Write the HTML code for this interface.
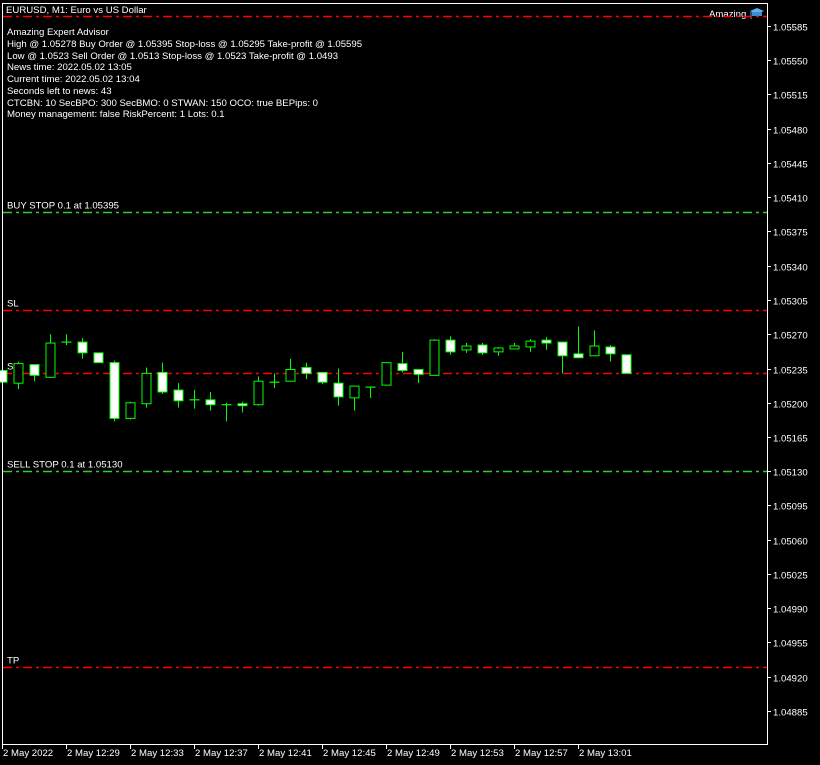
<!DOCTYPE html>
<html><head><meta charset="utf-8"><style>
body{margin:0;background:#000;width:820px;height:765px;overflow:hidden}
svg{display:block}
text{font-family:"Liberation Sans","DejaVu Sans",sans-serif;font-size:9.6px;fill:#fff}
</style></head><body>
<svg id="chart" width="820" height="765">
<text x="6" y="13">EURUSD, M1:  Euro vs US Dollar</text>
<g>
<text x="7" y="35">Amazing Expert Advisor</text>
<text x="7" y="47">High @ 1.05278 Buy Order @ 1.05395 Stop-loss @ 1.05295 Take-profit @ 1.05595</text>
<text x="7" y="59">Low @ 1.0523 Sell Order @ 1.0513 Stop-loss @ 1.0523 Take-profit @ 1.0493</text>
<text x="7" y="70">News time: 2022.05.02 13:05</text>
<text x="7" y="82">Current time: 2022.05.02 13:04</text>
<text x="7" y="94">Seconds left to news: 43</text>
<text x="7" y="106">CTCBN: 10 SecBPO: 300 SecBMO: 0 STWAN: 150 OCO: true BEPips: 0</text>
<text x="7" y="117">Money management: false RiskPercent: 1 Lots: 0.1</text>
</g>
<text x="709" y="17">Amazing</text>
<g><polygon points="750,11 757,8 764,11 757,14" fill="#5ab4f0"/><rect x="752" y="12" width="10" height="4" fill="#3a8fd0"/><line x1="751" y1="11" x2="751" y2="19" stroke="#2a6fb0" stroke-width="1.5"/></g>
<g id="lines"></g>
<g id="candles"></g>
<g id="axes"></g>
</svg>
<script>
const opens  =[1.05233,1.05220,1.05239,1.05226,1.05262,1.05262,1.05251,1.05241,1.05184,1.05199,1.05231,1.05213,1.05203,1.05203,1.05198,1.05199,1.05198,1.05221,1.05222,1.05236,1.05231,1.05220,1.05205,1.05216,1.05218,1.05240,1.05234,1.05228,1.05264,1.05254,1.05259,1.05252,1.05255,1.05257,1.05264,1.05262,1.05250,1.05248,1.05257,1.05249];
const highs  =[1.05235,1.05242,1.05239,1.05270,1.05270,1.05266,1.05251,1.05243,1.05201,1.05236,1.05241,1.05220,1.05213,1.05211,1.05200,1.05201,1.05227,1.05230,1.05245,1.05241,1.05231,1.05235,1.05217,1.05216,1.05241,1.05252,1.05234,1.05265,1.05268,1.05261,1.05261,1.05257,1.05261,1.05265,1.05267,1.05262,1.05278,1.05274,1.05259,1.05249];
const lows   =[1.05219,1.05214,1.05222,1.05226,1.05259,1.05245,1.05241,1.05181,1.05183,1.05195,1.05209,1.05195,1.05194,1.05192,1.05181,1.05190,1.05197,1.05215,1.05222,1.05224,1.05219,1.05197,1.05192,1.05205,1.05218,1.05231,1.05220,1.05228,1.05249,1.05251,1.05249,1.05248,1.05255,1.05252,1.05254,1.05230,1.05246,1.05248,1.05242,1.05230];
const closes =[1.05221,1.05240,1.05228,1.05261,1.05262,1.05251,1.05241,1.05184,1.05200,1.05230,1.05211,1.05202,1.05203,1.05198,1.05198,1.05197,1.05222,1.05221,1.05234,1.05230,1.05221,1.05206,1.05217,1.05216,1.05241,1.05233,1.05229,1.05264,1.05252,1.05258,1.05251,1.05256,1.05258,1.05263,1.05261,1.05248,1.05246,1.05258,1.05250,1.05230];
const priceTicks=["1.05585","1.05550","1.05515","1.05480","1.05445","1.05410","1.05375","1.05340","1.05305","1.05270","1.05235","1.05200","1.05165","1.05130","1.05095","1.05060","1.05025","1.04990","1.04955","1.04920","1.04885"];
const timeLabels=["2 May 2022","2 May 12:29","2 May 12:33","2 May 12:37","2 May 12:41","2 May 12:45","2 May 12:49","2 May 12:53","2 May 12:57","2 May 13:01"];
const levelPrices=[1.05595,1.05395,1.05295,1.05230,1.05130,1.04930];
const levelNames=["","BUY STOP 0.1 at 1.05395","SL","S","SELL STOP 0.1 at 1.05130","TP"];
const levelColors=["#ff0000","#33cc33","#ff0000","#ff0000","#33cc33","#ff0000"];

const NS="http://www.w3.org/2000/svg";
const y=p=>26+(1.05585-p)/0.00035*34.25;
const x=i=>2.5+16*i;
function mk(tag,attrs,parent){const e=document.createElementNS(NS,tag);for(const k in attrs)e.setAttribute(k,attrs[k]);parent.appendChild(e);return e;}
const L=document.getElementById('lines'),C=document.getElementById('candles'),A=document.getElementById('axes');

levelPrices.forEach((p,i)=>{
  const yy=Math.round(y(p))+0.5;
  const ln=mk('line',{x1:3,x2:767,y1:yy,y2:yy,stroke:levelColors[i],'stroke-width':1.6,'stroke-dasharray':'9,4,3,4'},L);
  
  
  if(levelNames[i]){const t=mk('text',{x:7,y:yy-4},L);t.textContent=levelNames[i];
    
    }
});

opens.forEach((o,i)=>{
  const c=closes[i],cx=x(i);
  const g=mk('g',{},C);
  
  
  mk('line',{x1:cx,x2:cx,y1:y(highs[i]),y2:y(lows[i]),stroke:'#00ff00','stroke-width':1},g);
  const top=y(Math.max(o,c)),bot=y(Math.min(o,c));
  const h=Math.max(bot-top,0);
  if(h<1.5){mk('line',{x1:cx-5,x2:cx+5,y1:top,y2:top,stroke:'#00ff00','stroke-width':1.2},g);}
  else mk('rect',{x:cx-4.5,y:top,width:9,height:h,fill:c>o?'#000':'#fff',stroke:'#00ff00','stroke-width':1},g);
});

const fr=mk('rect',{x:2.5,y:3.5,width:765,height:741,fill:'none',stroke:'#fff','stroke-width':1},A);


priceTicks.forEach((t,i)=>{
  const yy=Math.round(y(parseFloat(t)))+0.5;
  mk('line',{x1:767,x2:771,y1:yy,y2:yy,stroke:'#fff'},A);
  const e=mk('text',{x:773,y:yy+4},A);e.textContent=t;
  
  
});
timeLabels.forEach((t,i)=>{
  const xx=x(i*4);
  mk('line',{x1:xx,x2:xx,y1:745,y2:749,stroke:'#fff'},A);
  const e=mk('text',{x:xx+0.5,y:756},A);e.textContent=t;
  
  
});
</script>
</body></html>
